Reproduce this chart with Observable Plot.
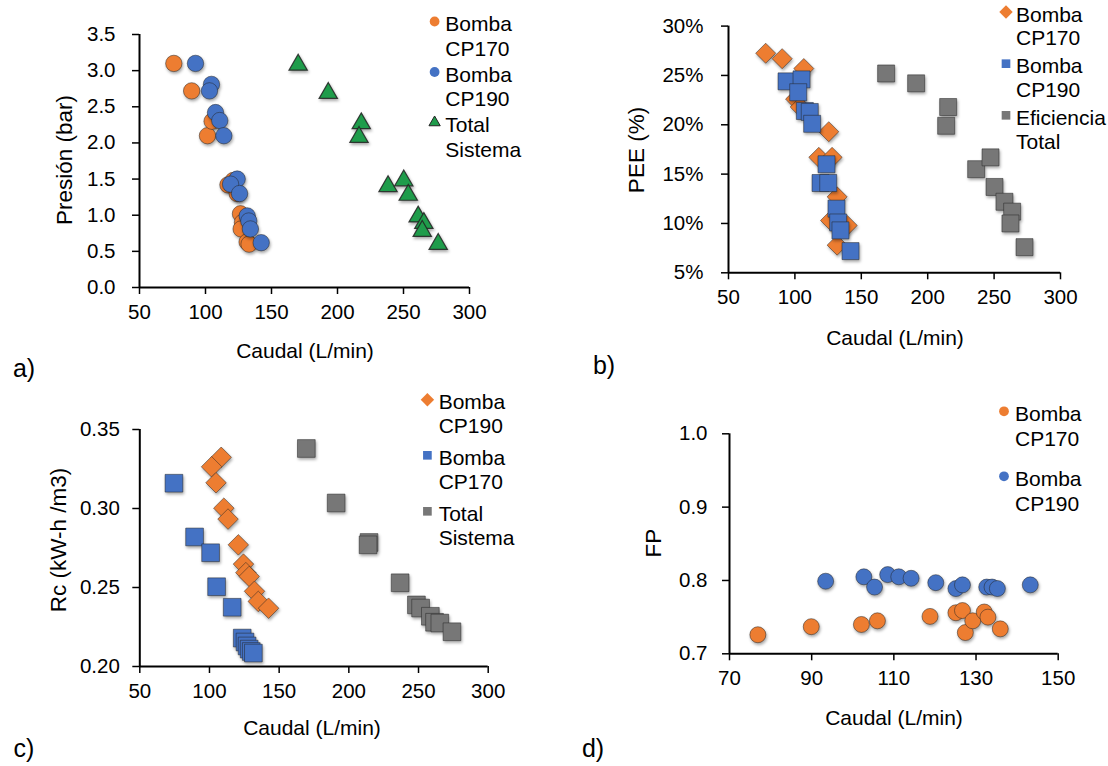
<!DOCTYPE html>
<html><head><meta charset="utf-8">
<script src="https://cdn.jsdelivr.net/npm/d3@7"></script>
<script src="https://cdn.jsdelivr.net/npm/@observablehq/plot@0.6"></script>
<style>
body{margin:0;background:#fff;}
#wrap{position:relative;width:1108px;height:766px;overflow:hidden;background:#fff}
#wrap svg{position:absolute;left:0;top:0;overflow:visible}
</style></head><body><div id="wrap"></div><script>
// ---------- Panel a: Presión vs Caudal ----------
const aCaudal170 = [76, 89.5, 101.5, 105, 117, 121, 124, 126.5, 128, 127, 131.5, 133];
const aPresion170 = [3.1, 2.72, 2.1, 2.3, 1.42, 1.48, 1.3, 1.02, 0.9, 0.81, 0.63, 0.6];
const aCaudal190 = [92.4, 104.5, 103, 107.6, 110.8, 113.9, 124, 119, 125.8, 131.6, 132.8, 134, 142.2];
const aPresion190 = [3.1, 2.81, 2.72, 2.42, 2.31, 2.1, 1.5, 1.43, 1.3, 0.99, 0.92, 0.81, 0.62];
const aCaudalTot = [170.2, 193, 218, 216.3, 238.3, 250.2, 253.6, 261.1, 265.4, 264.2, 276.3];
const aPresionTot = [3.08, 2.69, 2.27, 2.08, 1.4, 1.48, 1.28, 0.98, 0.89, 0.78, 0.6];
const aXTicks = [50, 100, 150, 200, 250, 300];
const aYTicks = [0, 0.5, 1, 1.5, 2, 2.5, 3, 3.5];

// ---------- Panel b: PEE vs Caudal ----------
const bCaudal170 = [78, 90.4, 106.7, 100.5, 104, 125.5, 118, 128, 131.8, 126.8, 139.4, 131.8];
const bPEE170 = [27.25, 26.7, 25.7, 22.6, 21.8, 19.3, 16.7, 16.7, 12.7, 10.3, 9.8, 7.8];
const bCaudal190 = [93.7, 105, 102.5, 107.5, 111.2, 113, 123.8, 119.3, 125.1, 131.3, 132.6, 134.3, 141.9];
const bPEE190 = [24.4, 24.6, 23.3, 21.4, 21.3, 20.1, 16.0, 14.1, 14.1, 11.5, 10.1, 9.3, 7.2];
const bCaudalTot = [168.7, 191.3, 215.4, 213.9, 236.5, 247.3, 250.3, 257.8, 263.6, 262.3, 272.9];
const bPEETot = [25.2, 24.2, 21.8, 19.9, 15.5, 16.7, 13.7, 12.2, 11.2, 10.0, 7.6];
const bXTicks = [50, 100, 150, 200, 250, 300];
const bYTicks = [5, 10, 15, 20, 25, 30];

// ---------- Panel c: Rc vs Caudal ----------
const cCaudal190 = [108.4, 101.5, 104.7, 110.3, 113.3, 120.7, 124.4, 126.1, 128.5, 132.3, 135, 142.4];
const cRc190 = [0.3324, 0.3264, 0.3163, 0.3002, 0.2933, 0.2770, 0.2648, 0.2594, 0.2570, 0.2476, 0.2412, 0.2369];
const cCaudal170 = [74.5, 89.3, 100.8, 105.1, 116.3, 123.5, 125.5, 127, 128.5, 130, 131.5];
const cRc170 = [0.316, 0.282, 0.272, 0.2505, 0.2375, 0.218, 0.2155, 0.213, 0.211, 0.2095, 0.2085];
const cCaudalTot = [169.5, 190.9, 214.5, 213.8, 236.8, 248.5, 251.5, 258.5, 261.5, 265.3, 274];
const cRcTot = [0.338, 0.3035, 0.2785, 0.277, 0.253, 0.239, 0.237, 0.2318, 0.228, 0.2275, 0.222];
const cXTicks = [50, 100, 150, 200, 250, 300];
const cYTicks = [0.20, 0.25, 0.30, 0.35];

// ---------- Panel d: FP vs Caudal ----------
const dCaudal170 = [76.9, 89.9, 102.1, 106, 118.8, 125.1, 126.7, 127.4, 129.2, 132, 132.9, 135.9];
const dFP170 = [0.726, 0.737, 0.740, 0.745, 0.751, 0.756, 0.759, 0.729, 0.745, 0.757, 0.750, 0.734];
const dCaudal190 = [93.4, 102.7, 105.3, 108.5, 111.2, 114.2, 120.2, 125.1, 126.7, 132.6, 133.9, 135.2, 143.2];
const dFP190 = [0.799, 0.805, 0.791, 0.808, 0.805, 0.803, 0.797, 0.789, 0.794, 0.791, 0.791, 0.789, 0.794];
const dXTicks = [70, 90, 110, 130, 150];
const dYTicks = [0.7, 0.8, 0.9, 1.0];

// ---------- styling ----------
const FONT = '"Liberation Sans", Arial, Helvetica, sans-serif';
const FS = 21, TFS = 20.5, RFS = 22.5;
const ORANGE = "#ED7D31", BLUE = "#4472C4", GREEN = "#1F9C4B", GRAY = "#777777";
const diamond = {draw(c, size){ const h = Math.sqrt(size/2); c.moveTo(0,-h); c.lineTo(h,0); c.lineTo(0,h); c.lineTo(-h,0); c.closePath(); }};

const wrap = document.getElementById("wrap");
const W = 1108, H = 766;
const pts = (xs, ys) => xs.map((x, i) => ({x, y: ys[i]}));

function panel(cfg){
  const marks = [];
  for (const s of cfg.series) {
    const tri = s.symbol === "triangle";
    marks.push(Plot.dot(pts(s.x, s.y), {x: "x", y: "y", symbol: s.symbol, r: s.r, fill: s.fill,
      stroke: "#222", strokeWidth: tri ? 1.2 : 0.9, strokeOpacity: tri ? 0.85 : 0.55}));
  }
  marks.push(Plot.ruleY([cfg.yDomain[0]], {strokeWidth: 2}));
  marks.push(Plot.ruleX([cfg.xDomain[0]], {strokeWidth: 2}));
  marks.push(Plot.axisX({ticks: cfg.xTicks, tickSize: 7, tickPadding: cfg.xPad, label: null, fontSize: TFS, strokeWidth: 1.5, tickFormat: d => String(d)}));
  marks.push(Plot.axisY({ticks: cfg.yTicks, tickSize: 7, tickPadding: cfg.yPad, label: null, fontSize: TFS, strokeWidth: 1.5, tickFormat: cfg.yFormat}));
  const svg = Plot.plot({
    width: W, height: H,
    marginLeft: cfg.x0, marginRight: W - cfg.x1, marginTop: cfg.y1, marginBottom: H - cfg.y0,
    x: {domain: cfg.xDomain}, y: {domain: cfg.yDomain},
    style: {fontFamily: FONT, fontSize: TFS + "px", color: "#000", background: "transparent", overflow: "visible"},
    marks
  });
  svg.querySelectorAll('g[aria-label="dot"]').forEach(g => g.style.filter = "drop-shadow(1.5px 2.5px 1.5px rgba(0,0,0,0.35))");
  wrap.appendChild(svg);
}

panel({x0: 139, x1: 469, y0: 287, y1: 34, xDomain: [50, 300], yDomain: [0, 3.5], xTicks: aXTicks, yTicks: aYTicks,
  xPad: 10, yPad: 17, yFormat: d3.format(".1f"),
  series: [
    {x: aCaudal170, y: aPresion170, symbol: "circle", r: 8.2, fill: ORANGE},
    {x: aCaudal190, y: aPresion190, symbol: "circle", r: 8.2, fill: BLUE},
    {x: aCaudalTot, y: aPresionTot, symbol: "triangle", r: 6.8, fill: GREEN}
  ]});
panel({x0: 728, x1: 1060, y0: 272.3, y1: 25.6, xDomain: [50, 300], yDomain: [5, 30], xTicks: bXTicks, yTicks: bYTicks,
  xPad: 10, yPad: 18, yFormat: d => d + "%",
  series: [
    {x: bCaudal170, y: bPEE170, symbol: diamond, r: 8, fill: ORANGE},
    {x: bCaudal190, y: bPEE190, symbol: "square", r: 9.6, fill: BLUE},
    {x: bCaudalTot, y: bPEETot, symbol: "square", r: 9.6, fill: GRAY}
  ]});
panel({x0: 139.3, x1: 487.7, y0: 666, y1: 429, xDomain: [50, 300], yDomain: [0.2, 0.35], xTicks: cXTicks, yTicks: cYTicks,
  xPad: 10, yPad: 13, yFormat: d3.format(".2f"),
  series: [
    {x: cCaudal190, y: cRc190, symbol: diamond, r: 8.2, fill: ORANGE},
    {x: cCaudal170, y: cRc170, symbol: "square", r: 10, fill: BLUE},
    {x: cCaudalTot, y: cRcTot, symbol: "square", r: 10, fill: GRAY}
  ]});
panel({x0: 729, x1: 1057.7, y0: 653.3, y1: 433.3, xDomain: [70, 150], yDomain: [0.7, 1.0], xTicks: dXTicks, yTicks: dYTicks,
  xPad: 10, yPad: 15, yFormat: d3.format(".1f"),
  series: [
    {x: dCaudal170, y: dFP170, symbol: "circle", r: 8, fill: ORANGE},
    {x: dCaudal190, y: dFP190, symbol: "circle", r: 8, fill: BLUE}
  ]});

// ---------- overlay: titles, panel letters, legends ----------
const ov = d3.select(wrap).append("svg").attr("width", W).attr("height", H)
  .style("font-family", FONT).style("pointer-events", "none");
function txt(x, y, s, opt = {}){
  const fs = opt.fs || FS;
  const t = ov.append("text").attr("font-size", fs).attr("fill", "#000")
    .attr("text-anchor", opt.anchor || "middle").text(s);
  if (opt.rotate) t.attr("transform", `translate(${x},${y}) rotate(-90)`).attr("dy", "0.36em");
  else t.attr("x", x).attr("y", y).attr("dy", "0.36em");
}
// axis titles
txt(305, 350, "Caudal (L/min)"); txt(64, 160, "Presión (bar)", {rotate: true, fs: RFS});
txt(895, 337, "Caudal (L/min)"); txt(636, 150, "PEE (%)", {rotate: true, fs: RFS});
txt(312, 727, "Caudal (L/min)"); txt(58, 540, "Rc (kW-h /m3)", {rotate: true, fs: RFS});
txt(894, 717, "Caudal (L/min)"); txt(653, 543, "FP", {rotate: true, fs: RFS});
// panel letters
txt(24, 368, "a)", {fs: 25}); txt(604, 365, "b)", {fs: 25});
txt(24, 748, "c)", {fs: 25}); txt(593, 748, "d)", {fs: 25});

// legends
const legendA = [{lines: ["Bomba", "CP170"], sym: d3.symbolCircle, fill: ORANGE},
                 {lines: ["Bomba", "CP190"], sym: d3.symbolCircle, fill: BLUE},
                 {lines: ["Total", "Sistema"], sym: d3.symbolTriangle, fill: GREEN}];
const legendB = [{lines: ["Bomba", "CP170"], sym: diamond, fill: ORANGE},
                 {lines: ["Bomba", "CP190"], sym: d3.symbolSquare, fill: BLUE},
                 {lines: ["Eficiencia", "Total"], sym: d3.symbolSquare, fill: GRAY}];
const legendC = [{lines: ["Bomba", "CP190"], sym: diamond, fill: ORANGE},
                 {lines: ["Bomba", "CP170"], sym: d3.symbolSquare, fill: BLUE},
                 {lines: ["Total", "Sistema"], sym: d3.symbolSquare, fill: GRAY}];
const legendD = [{lines: ["Bomba", "CP170"], sym: d3.symbolCircle, fill: ORANGE},
                 {lines: ["Bomba", "CP190"], sym: d3.symbolCircle, fill: BLUE}];
function legend(items, mx, tx, ys, lh){
  items.forEach((it, i) => {
    const y = ys[i];
    const size = it.sym === d3.symbolTriangle ? 55 : (it.sym === diamond ? 90 : 75);
    ov.append("path").attr("d", d3.symbol(it.sym, size)()).attr("transform", `translate(${mx},${y - 2})`)
      .attr("fill", it.fill).attr("stroke", it.sym === d3.symbolTriangle ? "#222" : "none").attr("stroke-width", 1);
    it.lines.forEach((l, j) => txt(tx, y + j * lh, l, {anchor: "start"}));
  });
}
legend(legendA, 434.6, 445.3, [23.5, 74, 124.5], 24.5);
legend(legendB, 1006, 1016, [14, 65.7, 117.3], 23.8);
legend(legendC, 427.4, 438.7, [401.7, 457.3, 513.3], 23.8);
legend(legendD, 1004, 1015, [413.3, 478.3], 25);
</script></body></html>
